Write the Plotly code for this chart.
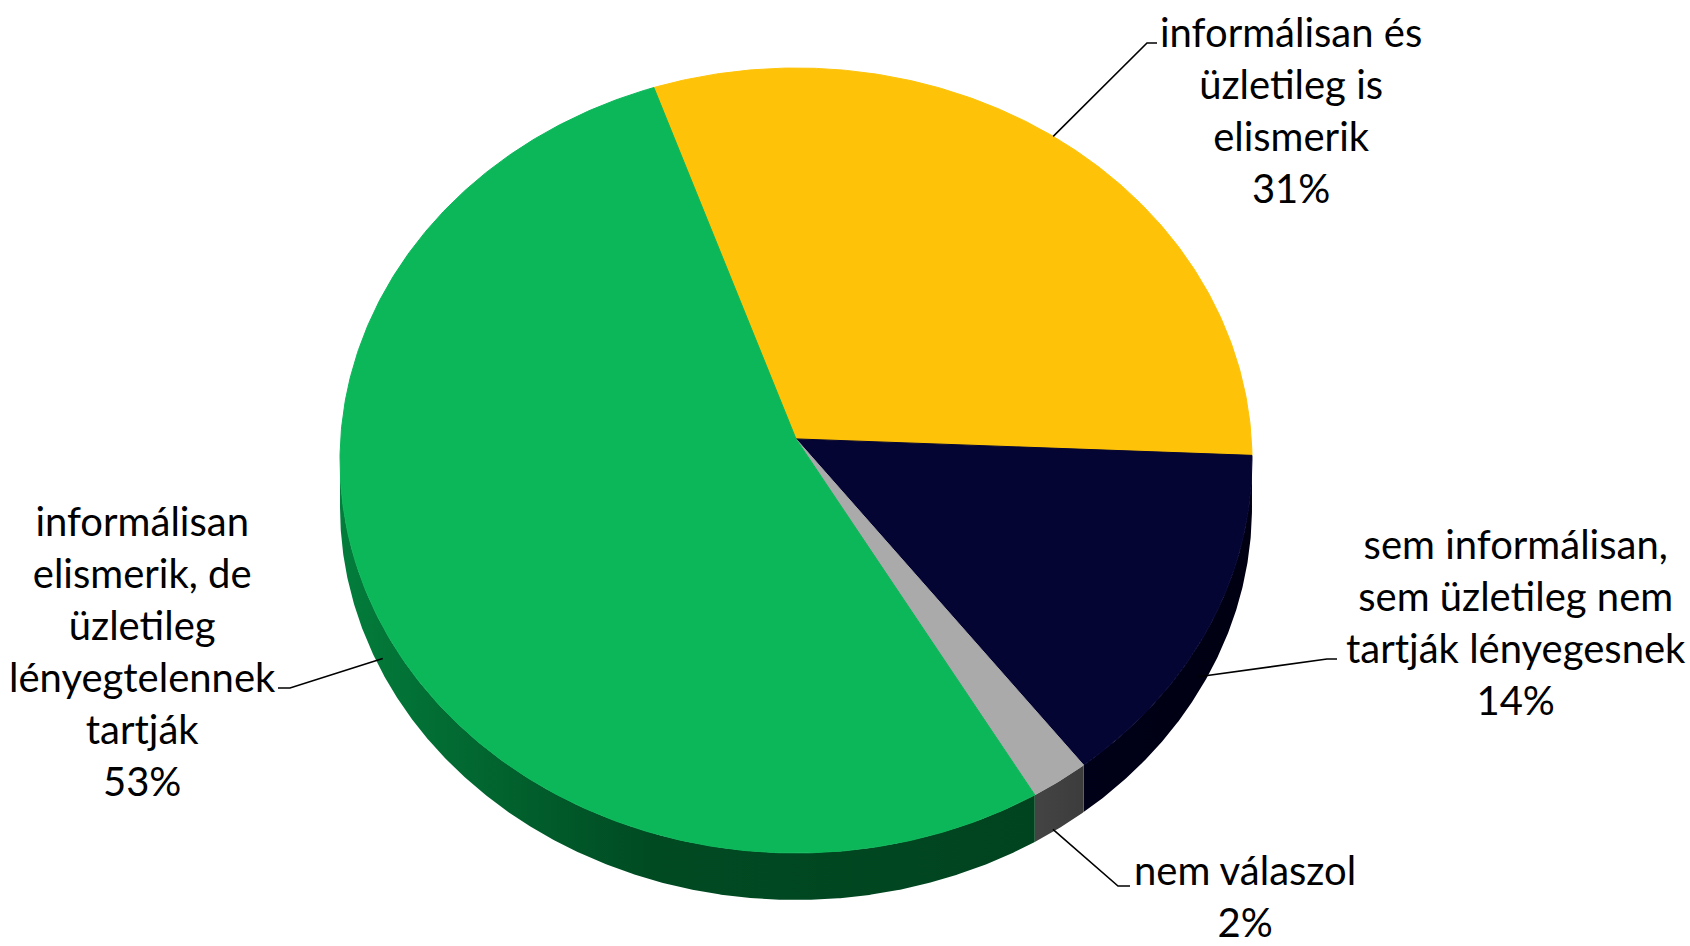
import numpy as np
import plotly.graph_objects as go

# ---------------- data ----------------
categories = [
    "informálisan és<br>üzletileg is<br>elismerik",
    "sem informálisan,<br>sem üzletileg nem<br>tartják lényegesnek",
    "nem válaszol",
    "informálisan<br>elismerik, de<br>üzletileg<br>lényegtelennek<br>tartják",
]
values = [31, 14, 2, 53]

# ---------------- styles / layout ----------------
face_colors = ["#FEC308", "#050533", "#AAAAAA", "#0CB75A"]
side_scales = [
    [[0, "#9A7400"], [1, "#9A7400"]],
    [[0, "#000018"], [1, "#000012"]],
    [[0, "#444444"], [1, "#3C3C3C"]],
    [[0, "#037D3B"], [0.45, "#004A22"], [1, "#00441F"]],
]

W, H = 1690, 946
CX, CY, RX, RY = 796.0, 460.5, 456.0, 392.5
APEX = np.array([0.0, -0.055])
DEPTH = 47.0
START = -19.2  # degrees clockwise from top

# label layout: (text centre x, centre y, elbow x, elbow y, end x, leader angle offset, depth fraction)
label_layout = [
    (1291, 110, 1147, 43, 1157, -0.4, 0.0),
    (1516, 622, 1327, 659, 1337, 3.2, 0.67),
    (1245, 896, 1118, 886, 1130, 1.0, 0.95),
    (142, 651, 290, 688, 278, -3.2, 0.68),
]


def rim(theta_deg):
    th = np.radians(theta_deg)
    d = np.array([np.sin(th), -np.cos(th)])
    b = APEX @ d
    c = APEX @ APEX - 1.0
    t = -b + np.sqrt(b * b - c)
    return APEX + t * d


def scr(p, dz=0.0):
    return CX + RX * p[0], CY + RY * p[1] + dz


fig = go.Figure()

total = float(sum(values))
bounds = [START]
for v in values:
    bounds.append(bounds[-1] + 360.0 * v / total)

# ---- sides (drawn first) ----
for i in range(len(values)):
    t1, t2 = bounds[i], bounds[i + 1]
    n = max(2, int(np.ceil((t2 - t1) / 0.25)) + 1)
    vis = [rim(t) for t in np.linspace(t1, t2, n)]
    vis = [p for p in vis if p[1] > -0.002]
    if len(vis) < 2:
        continue
    xs, ys = [], []
    for p in vis:
        x, y = scr(p)
        xs.append(x)
        ys.append(y)
    for p in reversed(vis):
        x, y = scr(p, DEPTH)
        xs.append(x)
        ys.append(y)
    xs.append(xs[0])
    ys.append(ys[0])
    fig.add_trace(go.Scatter(x=xs, y=ys, fill="toself",
                             fillgradient=dict(type="horizontal", colorscale=side_scales[i]),
                             mode="lines", line=dict(width=0), hoverinfo="skip",
                             showlegend=False))

# ---- top faces ----
ax, ay = scr(APEX)
for i in range(len(values)):
    t1, t2 = bounds[i], bounds[i + 1]
    n = max(2, int(np.ceil((t2 - t1) / 0.5)) + 1)
    xs, ys = [ax], [ay]
    for t in np.linspace(t1, t2, n):
        x, y = scr(rim(t))
        xs.append(x)
        ys.append(y)
    xs.append(ax)
    ys.append(ay)
    fig.add_trace(go.Scatter(x=xs, y=ys, fill="toself", fillcolor=face_colors[i], mode="lines",
                             line=dict(color=face_colors[i], width=1), hoverinfo="skip",
                             showlegend=False))

# ---- labels + leader lines ----
for i, (cat, v) in enumerate(zip(categories, values)):
    lx, ly, ex, ey, endx, dang, frac = label_layout[i]
    mid = (bounds[i] + bounds[i + 1]) / 2 + dang
    p = rim(mid)
    sx, sy = scr(p, DEPTH * frac)
    fig.add_trace(go.Scatter(x=[sx, ex, endx], y=[sy, ey, ey], mode="lines",
                             line=dict(color="black", width=1.6), hoverinfo="skip",
                             showlegend=False))
    pct = "%d%%" % round(100.0 * v / total)
    fig.add_annotation(x=lx, y=ly, xref="x", yref="y", text=cat + "<br>" + pct,
                       showarrow=False, xanchor="center", yanchor="middle", align="center",
                       font=dict(family="Lato", size=40, color="black"))

fig.update_layout(
    width=W, height=H,
    margin=dict(l=0, r=0, t=0, b=0),
    paper_bgcolor="white", plot_bgcolor="white",
    xaxis=dict(range=[0, W], visible=False, fixedrange=True),
    yaxis=dict(range=[H, 0], visible=False, fixedrange=True),
    showlegend=False,
)

fig.write_html("out.html", config={"displayModeBar": False},
               post_script="document.body.style.margin='0';document.body.style.overflow='hidden';")
